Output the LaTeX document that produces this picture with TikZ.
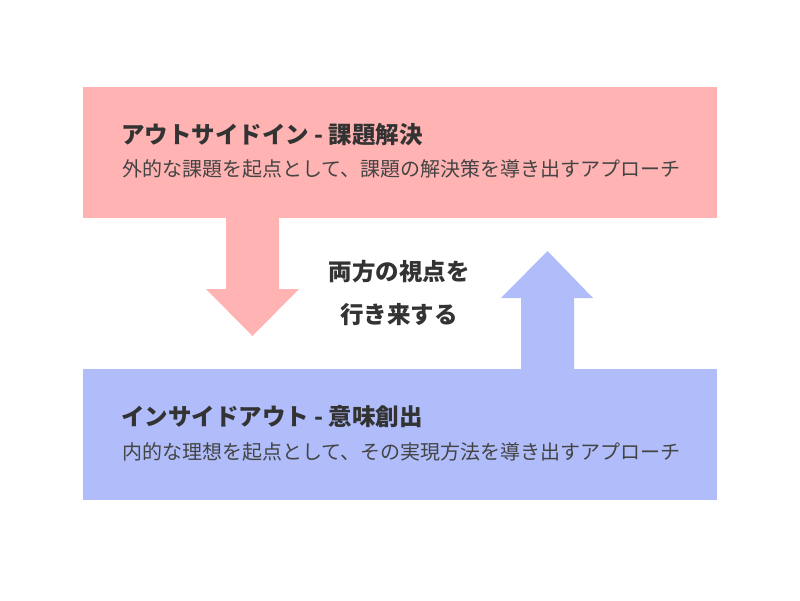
\documentclass[tikz,border=0pt]{standalone}
\usepackage{fontspec}
\newfontfamily\jp{Noto Sans CJK JP}
\definecolor{pinkbox}{RGB}{255,179,179}
\definecolor{bluebox}{RGB}{176,189,250}
\definecolor{darktext}{RGB}{51,51,51}
\definecolor{subtext}{RGB}{68,68,68}
\begin{document}
\begin{tikzpicture}[x=1pt,y=-1pt,
  panel/.style={draw=none,anchor=north west,minimum width=634pt,minimum height=131pt,inner sep=0pt},
  ttl/.style={anchor=west,inner sep=0pt,font=\jp\bfseries\fontsize{23.5}{27}\selectfont,text=darktext},
  sub/.style={anchor=west,inner sep=0pt,font=\jp\fontsize{20}{24}\selectfont,text=subtext},
  mid/.style={anchor=center,inner sep=0pt,font=\jp\bfseries\fontsize{23.5}{28}\selectfont,text=darktext}]
\useasboundingbox (0,0) rectangle (800,600);
\node[panel,fill=pinkbox] (top) at (83,87) {};
\node[panel,fill=bluebox] (bot) at (83,369) {};
% down arrow
\fill[pinkbox] (226,217) -- (279,217) -- (279,289) -- (299,289) -- (252.5,336) -- (206,289) -- (226,289) -- cycle;
% up arrow
\fill[bluebox] (521,370) -- (574,370) -- (574,298) -- (593,298) -- (547.5,251) -- (501,298) -- (521,298) -- cycle;
\node[ttl] (t1) at (121,135) {アウトサイドイン - 課題解決};
\node[sub] (s1) at (122,169) {外的な課題を起点として、課題の解決策を導き出すアプローチ};
\node[ttl] (t2) at (121,417) {インサイドアウト - 意味創出};
\node[sub] (s2) at (122,452) {内的な理想を起点として、その実現方法を導き出すアプローチ};
\node[mid] (m1) at (399,272) {両方の視点を};
\node[mid] (m2) at (399,315) {行き来する};
\end{tikzpicture}
\end{document}
